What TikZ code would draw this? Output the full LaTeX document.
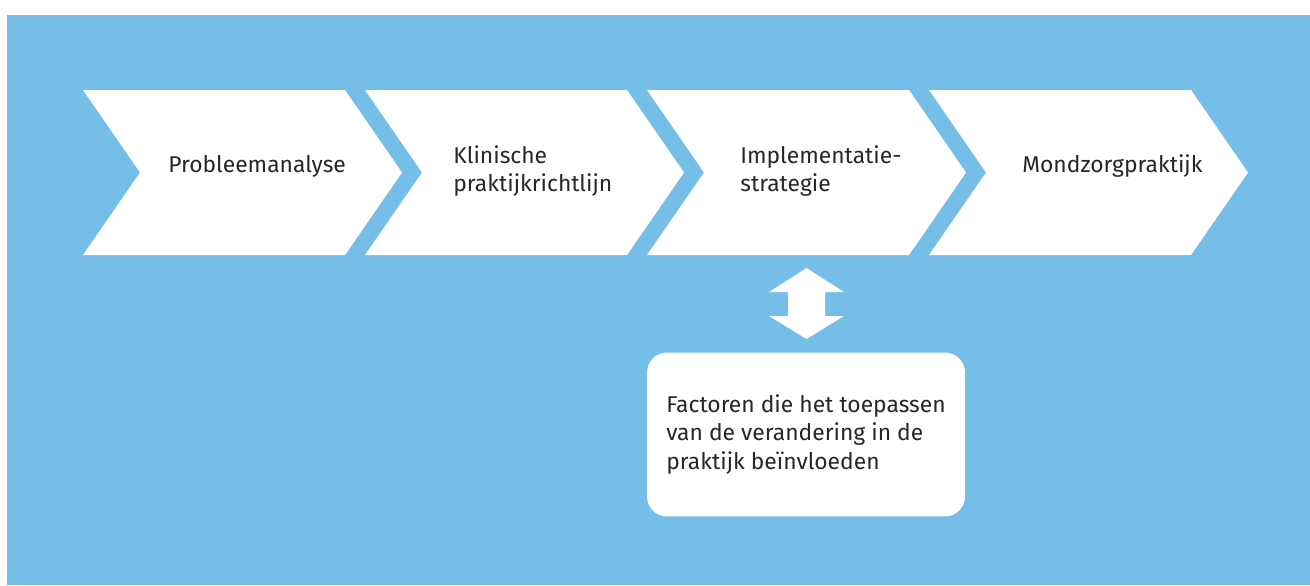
\documentclass[tikz,border=0pt]{standalone}
\usepackage{fontspec}
\setmainfont{Fira Sans}
\definecolor{panelblue}{RGB}{117,190,232}
\definecolor{textgrey}{RGB}{40,38,40}

\begin{document}
\begin{tikzpicture}[x=0.02cm, y=-0.02cm,
    steptext/.style={anchor=west, align=left, inner sep=0pt, text=textgrey,
      font=\fontsize{13}{16}\selectfont},
    factorbox/.style={fill=white, rounded corners=0.4cm, align=left, text=textgrey,
      minimum width=6.36cm, minimum height=3.28cm, font=\fontsize{13}{16}\selectfont}]
  \useasboundingbox (0,0) rectangle (1310,585);
  \fill[panelblue] (7,15) rectangle (1310,585);

  % chevrons
  \foreach \x in {83,365,647,929}
    \fill[white] (\x,90) -- +(262,0) -- +(319,82.5) -- +(262,165) -- +(0,165)
      -- +(57,82.5) -- cycle;

  % step labels
  \node[steptext] (probleem) at (168,166) {Probleemanalyse};
  \node[steptext] (richtlijn) at (453,171) {Klinische\\praktijkrichtlijn};
  \node[steptext] (strategie) at (740,171) {Implementatie-\\strategie};
  \node[steptext] (praktijk) at (1022,166) {Mondzorgpraktijk};

  % factors box
  \node[factorbox] (factoren) at (806,434.5)
    {Factoren die het toepassen\\van de verandering in de\\praktijk beïnvloeden};

  % double arrow between strategy and factors
  \coordinate (pijl) at (806.5,303.5);
  \fill[white] (pijl) ++(0,-35.5) -- ++(37.5,24) -- ++(-19,0) -- ++(0,24)
    -- ++(19,0) -- ++(-37.5,23) -- ++(-37.5,-23) -- ++(19,0) -- ++(0,-24)
    -- ++(-19,0) -- cycle;
\end{tikzpicture}
\end{document}
